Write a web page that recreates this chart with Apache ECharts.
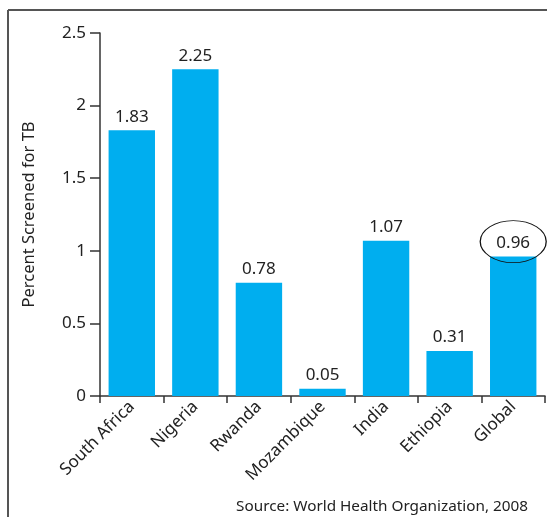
<!DOCTYPE html>
<html><head><meta charset="utf-8">
<script src="https://cdn.jsdelivr.net/npm/echarts@6/dist/echarts.min.js"></script>
<style>html,body{margin:0;padding:0;background:#fff}#c{width:547px;height:517px}</style>
</head><body><div id="c"></div>
<script>
const categories = ['South Africa','Nigeria','Rwanda','Mozambique','India','Ethiopia','Global'];
const values = [1.83, 2.25, 0.78, 0.05, 1.07, 0.31, 0.96];
const yTicks = [0, 0.5, 1, 1.5, 2, 2.5];
const highlightIndex = 6;
const sourceText = 'Source: World Health Organization, 2008';
const yTitle = 'Percent Screened for TB';

const chart = echarts.init(document.getElementById('c'));
const FONT = 'Noto Sans';
const TXT = '#222';
chart.setOption({
  animation: false,
  grid: {left: 100, right: 2, top: 33, bottom: 121},
  xAxis: {
    type: 'category', data: categories,
    axisLine: {lineStyle: {color: '#333', width: 1.5}},
    axisTick: {show: true, length: 7, lineStyle: {color: '#333', width: 1.5}},
    axisLabel: {rotate: 45, color: TXT, fontFamily: FONT, fontSize: 17, margin: 8, interval: 0}
  },
  yAxis: {
    type: 'value', min: 0, max: 2.5, interval: 0.5,
    name: yTitle, nameLocation: 'middle', nameGap: 62,
    nameTextStyle: {color: TXT, fontFamily: FONT, fontSize: 16.5},
    axisLine: {show: true, lineStyle: {color: '#333', width: 1.5}},
    axisTick: {show: true, length: 10, lineStyle: {color: '#333', width: 1.5}},
    splitLine: {show: false},
    axisLabel: {color: TXT, fontFamily: FONT, fontSize: 17, margin: 14,
      formatter: v => yTicks.includes(v) ? String(v) : ''}
  },
  series: [{
    type: 'bar', data: values, barCategoryGap: '27%',
    itemStyle: {color: '#00AEEF'},
    label: {show: true, position: 'top', distance: 5, color: TXT, fontFamily: FONT, fontSize: 17,
      formatter: p => p.value.toFixed(2)}
  }]
});
const pt = chart.convertToPixel({seriesIndex: 0}, [highlightIndex, values[highlightIndex]]);
chart.setOption({graphic: [
  {type: 'line', shape: {x1: 8, y1: 10, x2: 547, y2: 10}, style: {stroke: '#555', lineWidth: 2}},
  {type: 'line', shape: {x1: 8, y1: 10, x2: 8, y2: 517}, style: {stroke: '#555', lineWidth: 2}},
  {type: 'text', right: 19, bottom: 3, style: {text: sourceText, fill: TXT, font: '15.3px "Noto Sans"'}},
  {type: 'circle', x: pt[0], y: pt[1] - 15, scaleY: 21 / 33, shape: {cx: 0, cy: 0, r: 33},
   style: {fill: 'none', stroke: '#111', lineWidth: 1.3, strokeNoScale: true}, z: 100}
]});
</script></body></html>
